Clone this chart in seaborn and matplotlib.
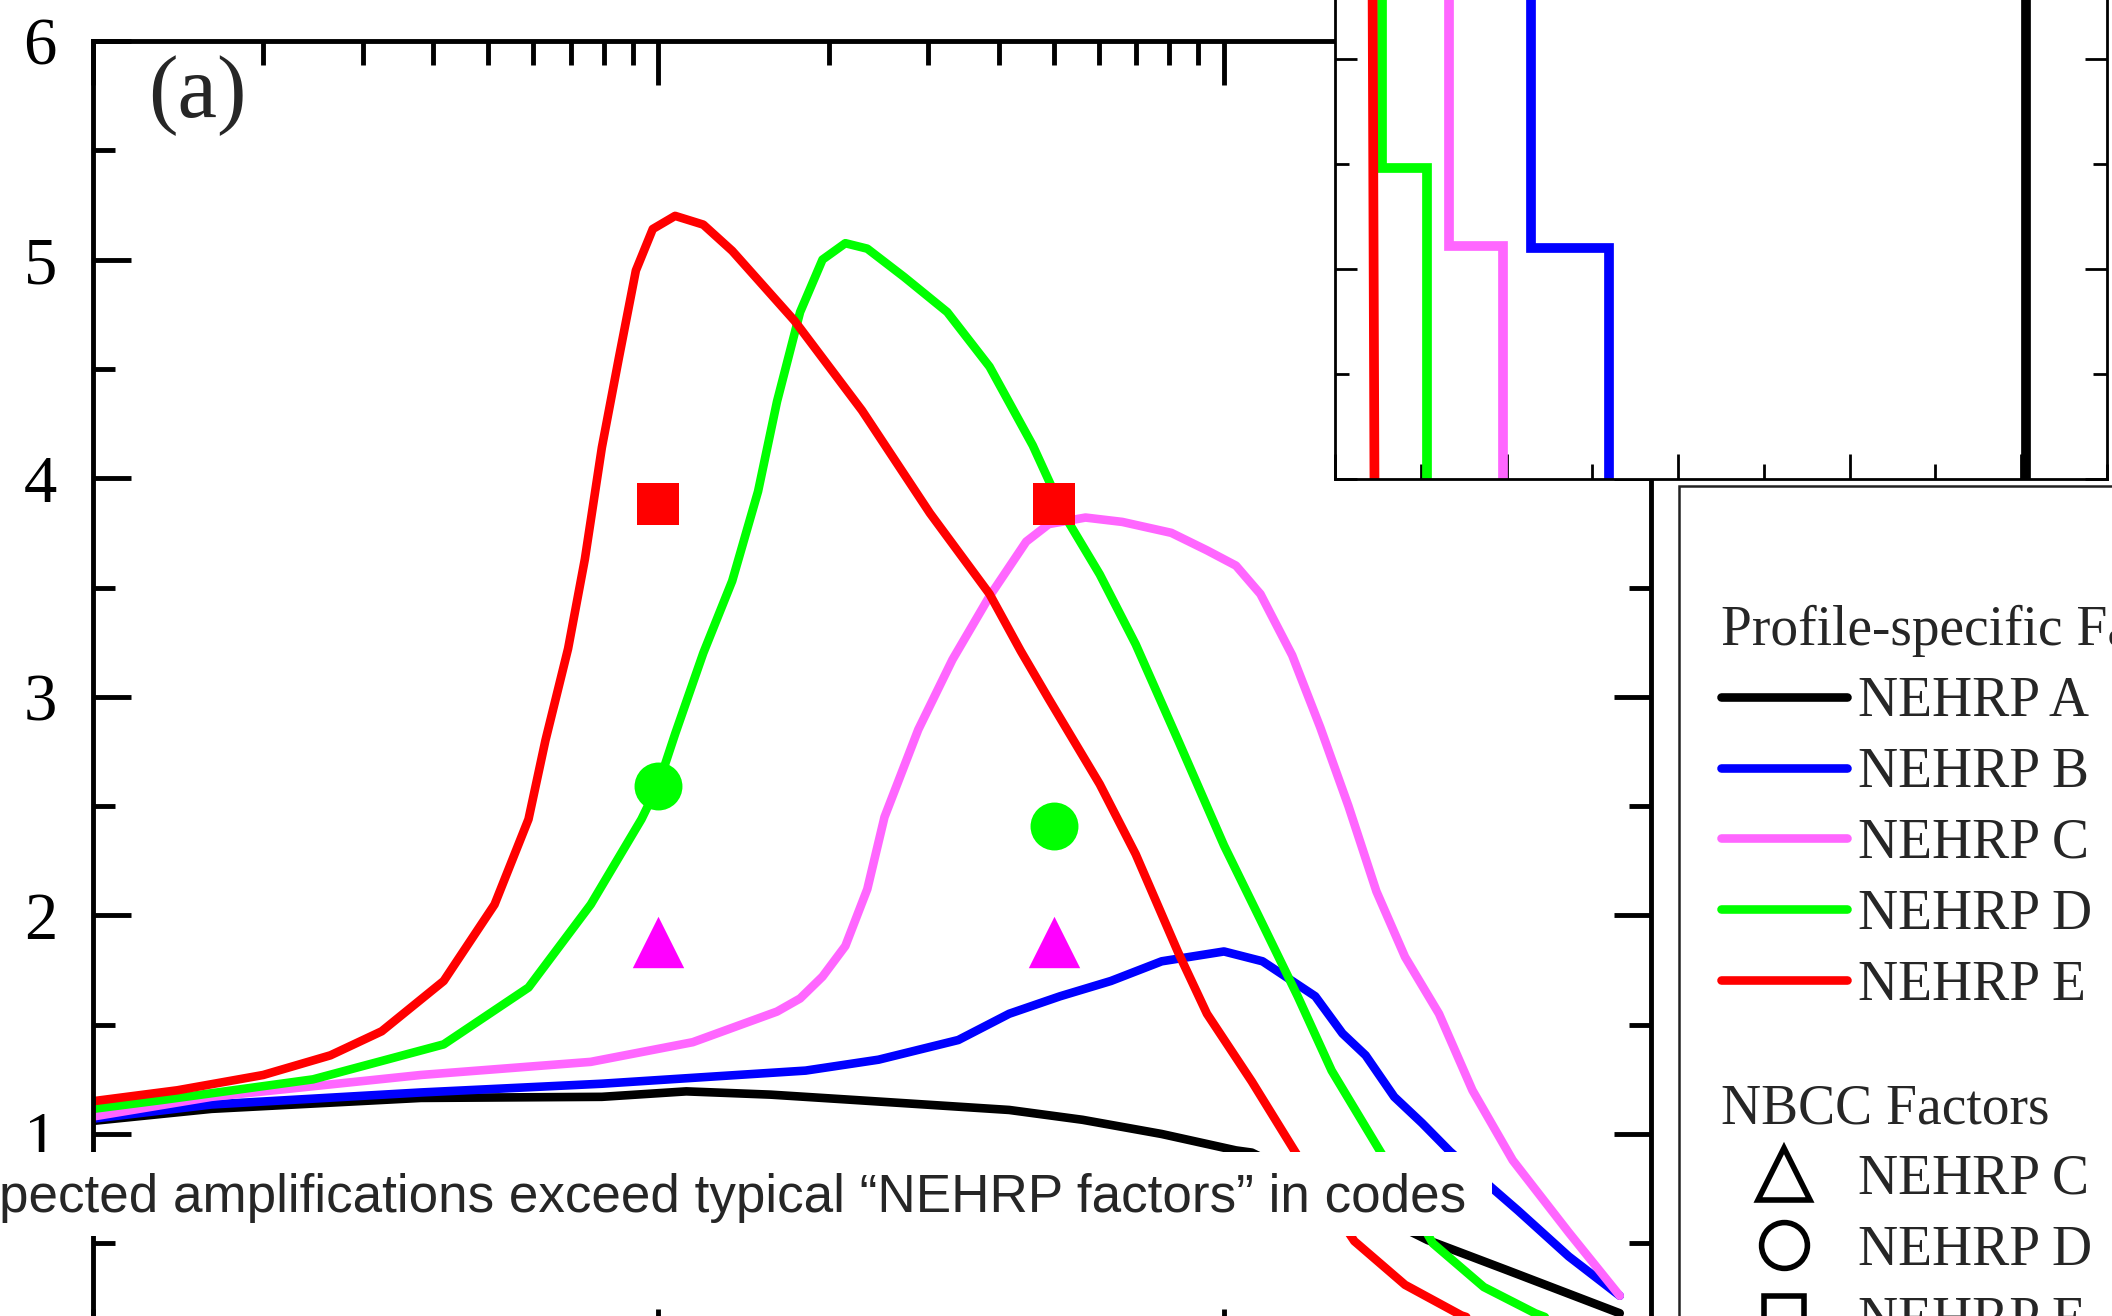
import numpy as np
import matplotlib
matplotlib.use("Agg")
import matplotlib.pyplot as plt
import seaborn as sns
from matplotlib.lines import Line2D
from matplotlib.patches import Rectangle
from matplotlib.ticker import MultipleLocator, LogLocator, NullFormatter

sns.set_style("white")
plt.rcParams["font.family"] = ["Liberation Serif", "DejaVu Serif"]

# amplification vs frequency (Hz)
freq_a = [0.100, 0.162, 0.380, 0.794, 1.12, 1.58, 2.24, 4.17, 5.62, 7.76, 10.5, 11.2, 22.9, 31.6, 50.1]
amp_a = [1.06, 1.115, 1.165, 1.17, 1.195, 1.18, 1.155, 1.11, 1.065, 1.00, 0.925, 0.915, 0.515, 0.378, 0.18]

freq_b = [0.100, 0.162, 0.380, 0.794, 1.20, 1.82, 2.45, 3.39, 4.17, 5.13, 6.31, 7.76, 10.0, 11.7,
          14.5, 16.2, 17.8, 20.0, 22.4, 25.1, 33.1, 40.7, 50.1]
amp_b = [1.07, 1.135, 1.19, 1.23, 1.26, 1.29, 1.34, 1.43, 1.55, 1.63, 1.70, 1.79, 1.835, 1.79,
         1.63, 1.46, 1.36, 1.17, 1.05, 0.92, 0.65, 0.44, 0.26]

freq_c = [0.100, 0.162, 0.380, 0.759, 1.15, 1.62, 1.78, 1.95, 2.14, 2.34, 2.51, 2.88, 3.31, 3.85,
          4.47, 4.90, 5.69, 6.61, 8.07, 9.33, 10.5, 11.6, 13.2, 14.8, 16.6, 18.6, 20.9, 24.0,
          27.5, 32.4, 37.2, 40.7, 50.1]
amp_c = [1.08, 1.17, 1.27, 1.33, 1.42, 1.56, 1.62, 1.72, 1.86, 2.12, 2.45, 2.85, 3.17, 3.46,
         3.71, 3.79, 3.82, 3.80, 3.75, 3.67, 3.60, 3.47, 3.19, 2.86, 2.50, 2.11, 1.81, 1.55,
         1.20, 0.88, 0.68, 0.55, 0.26]

freq_d = [0.100, 0.132, 0.245, 0.417, 0.589, 0.759, 0.933, 1.00, 1.07, 1.20, 1.35, 1.50, 1.62,
          1.78, 1.95, 2.14, 2.34, 2.72, 3.24, 3.85, 4.59, 5.25, 6.03, 6.98, 8.30, 10.0, 11.6,
          13.5, 15.5, 19.1, 23.4, 28.8, 35.5, 44.7]
amp_d = [1.115, 1.155, 1.25, 1.41, 1.67, 2.05, 2.44, 2.60, 2.83, 3.20, 3.53, 3.94, 4.35,
         4.76, 5.00, 5.075, 5.05, 4.92, 4.76, 4.51, 4.15, 3.82, 3.56, 3.24, 2.80, 2.32, 1.98,
         1.63, 1.29, 0.90, 0.50, 0.30, 0.18, 0.08]

freq_e = [0.100, 0.141, 0.200, 0.263, 0.324, 0.417, 0.513, 0.589, 0.631, 0.692, 0.741, 0.794,
          0.851, 0.912, 0.977, 1.07, 1.20, 1.35, 1.74, 2.29, 3.02, 3.85, 4.37, 4.90, 6.03, 6.98,
          8.30, 9.33, 11.2, 13.5, 17.0, 20.9, 26.3, 35.5]
amp_e = [1.15, 1.20, 1.27, 1.36, 1.47, 1.70, 2.05, 2.44, 2.80, 3.22, 3.63, 4.14,
         4.55, 4.95, 5.14, 5.20, 5.16, 5.04, 4.72, 4.31, 3.84, 3.47, 3.21, 2.99, 2.60, 2.28,
         1.83, 1.55, 1.24, 0.90, 0.51, 0.31, 0.17, 0.06]

# NBCC factors at 1 Hz and 5 Hz
nbcc_freq = [1.0, 5.0]
nbcc_c = [1.88, 1.88]
nbcc_d = [2.59, 2.41]
nbcc_e = [3.88, 3.88]

# shear-wave velocity profiles for the inset (m/s vs depth m)
vs_a, dep_a = [2015, 2015], [0, 30]
vs_b, dep_b = [570, 570, 798, 798], [0, 19.0, 19.0, 30]
vs_c, dep_c = [331, 331, 490, 490], [0, 18.9, 18.9, 30]
vs_d, dep_d = [136, 136, 268, 268], [0, 15.2, 15.2, 30]
vs_e, dep_e = [108, 115], [0, 30]

site_labels = ["NEHRP A", "NEHRP B", "NEHRP C", "NEHRP D", "NEHRP E"]
nbcc_labels = ["NEHRP C", "NEHRP D", "NEHRP E"]

BLACK, BLUE, PINK, GREEN, RED = "#000000", "#0000FF", "#FF66FF", "#00FF00", "#FF0000"
MAGENTA = "#FF00FF"

W, H = 2112, 1316
fig = plt.figure(figsize=(W / 100, H / 100), dpi=100)


def px_rect(x0, y0, x1, y1):
    # pixel box (origin top-left) -> figure fraction [left, bottom, width, height]
    return [x0 / W, 1 - y1 / H, (x1 - x0) / W, (y1 - y0) / H]


# ---- main amplification panel ----
ax = fig.add_axes(px_rect(93, 41, 1651, 1352.6))
ax.set_xscale("log")
lw = 6.2
for fr, am, col in [(freq_a, amp_a, BLACK), (freq_b, amp_b, BLUE), (freq_c, amp_c, PINK),
                    (freq_d, amp_d, GREEN), (freq_e, amp_e, RED)]:
    sns.lineplot(x=fr, y=am, color=col, lw=lw, sort=False, estimator=None,
                 legend=False, ax=ax, solid_joinstyle="round")

sns.scatterplot(x=nbcc_freq, y=nbcc_c, marker="^", s=1369, color=MAGENTA, linewidth=0,
                legend=False, ax=ax, zorder=4)
sns.scatterplot(x=nbcc_freq, y=nbcc_d, marker="o", s=1190, color=GREEN, linewidth=0,
                legend=False, ax=ax, zorder=4)
sns.scatterplot(x=nbcc_freq, y=nbcc_e, marker="s", s=930, color=RED, linewidth=0,
                legend=False, ax=ax, zorder=4)

ax.set_xlim(0.1, 56.9)
ax.set_ylim(0, 6)
ax.set_xlabel("")
ax.set_ylabel("")
ax.xaxis.set_minor_locator(LogLocator(base=10, subs=np.arange(2, 10)))
ax.xaxis.set_minor_formatter(NullFormatter())
ax.yaxis.set_major_locator(MultipleLocator(1))
ax.yaxis.set_minor_locator(MultipleLocator(0.5))
for sp in ax.spines.values():
    sp.set_visible(True)
    sp.set_color("black")
    sp.set_linewidth(3.5)
ax.tick_params(axis="x", which="major", direction="in", top=True, bottom=True,
               length=32, width=3.5, color="black", labelbottom=False, labeltop=False)
ax.tick_params(axis="x", which="minor", direction="in", top=True, bottom=True,
               length=17, width=3.5, color="black")
ax.tick_params(axis="y", which="major", direction="in", left=True, right=True,
               length=27, width=3.5, color="black", labelsize=48, pad=26,
               labelcolor="black")
ax.tick_params(axis="y", which="minor", direction="in", left=True, right=True,
               length=15.5, width=3.5, color="black")
ax.text(0.0351, 0.9588, "(a)", transform=ax.transAxes, fontsize=64,
        va="center", ha="left")

# ---- inset: velocity profiles ----
ax_in = fig.add_axes(px_rect(1335, -151, 2107, 479))
ax_in.set_facecolor("white")
for vs, dep, col in [(vs_a, dep_a, BLACK), (vs_b, dep_b, BLUE), (vs_c, dep_c, PINK),
                     (vs_d, dep_d, GREEN), (vs_e, dep_e, RED)]:
    sns.lineplot(x=vs, y=dep, color=col, lw=7, sort=False, estimator=None,
                 legend=False, ax=ax_in, solid_joinstyle="miter")
ax_in.set_xlim(0, 2250)
ax_in.set_ylim(30, 0)
ax_in.set_xlabel("")
ax_in.set_ylabel("")
ax_in.xaxis.set_major_locator(MultipleLocator(500))
ax_in.xaxis.set_minor_locator(MultipleLocator(250))
ax_in.yaxis.set_major_locator(MultipleLocator(10))
ax_in.yaxis.set_minor_locator(MultipleLocator(5))
for sp in ax_in.spines.values():
    sp.set_visible(True)
    sp.set_color("black")
    sp.set_linewidth(2)
ax_in.tick_params(which="both", direction="in", top=True, bottom=True, left=True,
                  right=True, labelleft=False, labelbottom=False, width=2, color="black")
ax_in.tick_params(axis="x", which="major", length=18)
ax_in.tick_params(axis="x", which="minor", length=11)
ax_in.tick_params(axis="y", which="major", length=16)
ax_in.tick_params(axis="y", which="minor", length=10)

# ---- legend box ----
fig.add_artist(Rectangle((1679 / W, -0.1), 0.5, (1 - 486 / H) + 0.1,
                         transform=fig.transFigure, facecolor="white",
                         edgecolor="#222222", lw=1.8, zorder=1))
fs = 40
prof_handles = [Line2D([], [], color=c, lw=lw, solid_capstyle="round")
                for c in [BLACK, BLUE, PINK, GREEN, RED]]
fig.legend(handles=prof_handles, labels=site_labels, title="Profile-specific Factors",
           loc="upper left", bbox_to_anchor=(1721 / W, 1 - 605 / H), frameon=False,
           fontsize=fs, title_fontsize=fs, alignment="left", handlelength=2.27,
           handletextpad=0.2, labelspacing=0.34, borderpad=0, borderaxespad=0)
nbcc_handles = [
    Line2D([], [], ls="none", marker="^", ms=37, mfc="white", mec="black", mew=4),
    Line2D([], [], ls="none", marker="o", ms=33, mfc="white", mec="black", mew=4),
    Line2D([], [], ls="none", marker="s", ms=29, mfc="white", mec="black", mew=4),
]
fig.legend(handles=nbcc_handles, labels=nbcc_labels, title="NBCC Factors",
           loc="upper left", bbox_to_anchor=(1721 / W, 1 - 1083 / H), frameon=False,
           fontsize=fs, title_fontsize=fs, alignment="left", handlelength=2.27,
           handletextpad=0.2, labelspacing=0.34, borderpad=0, borderaxespad=0,
           numpoints=1)

# ---- caption strip over the bottom ----
fig.add_artist(Rectangle((-0.01, 1 - 1236 / H), 0.01 + 1492 / W, (1236 - 1152) / H,
                         transform=fig.transFigure, facecolor="white",
                         edgecolor="none", zorder=20))
fig.text(1466 / W, 1 - 1211.7 / H,
         "pected amplifications exceed typical \u201cNEHRP factors\u201d in codes",
         ha="right", va="baseline", fontsize=38.2,
         family=["Liberation Sans", "DejaVu Sans"], zorder=21)

fig.savefig("out.png", dpi=100)
